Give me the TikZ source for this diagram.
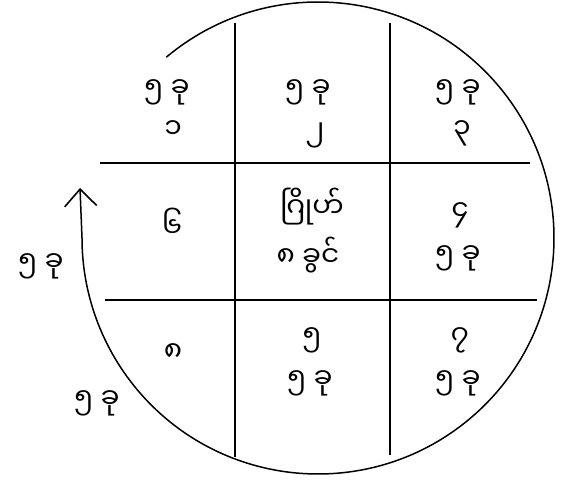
\documentclass[tikz,border=0pt]{standalone}
\usepackage{fontspec}
\newfontfamily\mmfont[Script=Myanmar]{Noto Sans Myanmar UI}
\usetikzlibrary{arrows.meta, calc}

\begin{document}
\begin{tikzpicture}[x=1pt, y=1pt,
    cell/.style={inner sep=0pt, align=center, font=\mmfont\fontsize{28}{34}\selectfont},
    rule/.style={line width=1.8pt},
    >={Straight Barb[length=17pt, width=32pt, line width=1.6pt]}]
  \useasboundingbox (0,0) rectangle (571,482);
  % grid lines
  \coordinate (v1t) at (235,459);
  \coordinate (v1b) at (235,25);
  \coordinate (v2t) at (390,459);
  \coordinate (v2b) at (390,27);
  \coordinate (h1l) at (100,319);
  \coordinate (h1r) at (530,319);
  \coordinate (h2l) at (105,182);
  \coordinate (h2r) at (537,182);
  \draw[rule] (v1t) -- (v1b);
  \draw[rule] (v2t) -- (v2b);
  \draw[rule] (h1l) -- (h1r);
  \draw[rule] (h2l) -- (h2r);
  % the round with its arrow
  \coordinate (start) at ($(318,244)+(130:236)$);
  \coordinate (tip) at (80,294);
  \draw[rule, line width=1.5pt, ->] (start) arc[start angle=130, end angle=-180, radius=236] -- (tip);
  % cells
  \node[cell] (tl1) at (167,390) {၅ ခု};
  \node[cell] (tl2) at (173,352) {၁};
  \node[cell] (tm1) at (308,390) {၅ ခု};
  \node[cell] (tm2) at (315,347) {၂};
  \node[cell] (tr1) at (458,390) {၅ ခု};
  \node[cell] (tr2) at (462,349) {၃};
  \node[cell] (ml) at (172,259) {၆};
  \node[cell] (c1) at (312,275) {ဂြိုဟ်};
  \node[cell] (c2) at (308,227) {၈ ခွင်};
  \node[cell] (mr1) at (460,267) {၄};
  \node[cell] (mr2) at (458,224) {၅ ခု};
  \node[cell] (bl) at (173,129) {၈};
  \node[cell] (bm1) at (312,142) {၅};
  \node[cell] (bm2) at (310,99) {၅ ခု};
  \node[cell] (br1) at (460,142) {၇};
  \node[cell] (br2) at (458,99) {၅ ခု};
  % outside the round
  \node[cell] (out1) at (41,216) {၅ ခု};
  \node[cell] (out2) at (97,79) {၅ ခု};
\end{tikzpicture}
\end{document}
